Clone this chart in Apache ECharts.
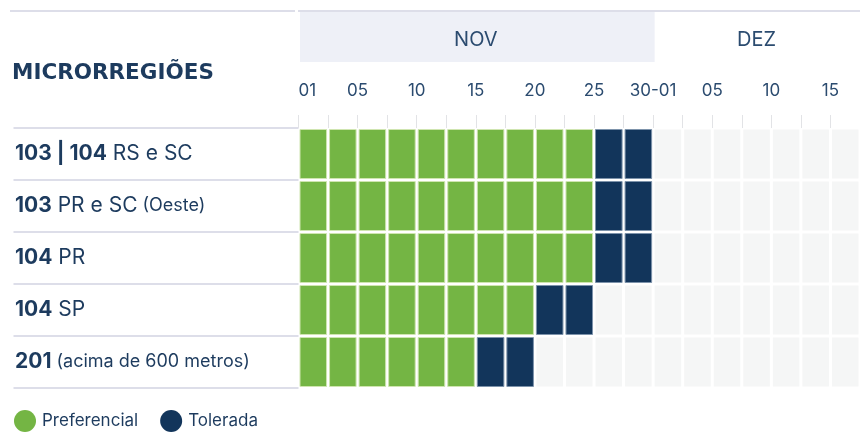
<!DOCTYPE html>
<html>
<head>
<meta charset="utf-8">
<script src="https://cdn.jsdelivr.net/npm/echarts@6/dist/echarts.min.js"></script>
<style>html,body{margin:0;padding:0;background:#fff}#c{width:860px;height:435px}</style>
</head>
<body>
<div id="c"></div>
<script>
// ---- data ----
const rowCodes = ["103 | 104", "103", "104", "104", "201"];
const rowNames = ["RS e SC", "PR e SC", "PR", "SP", ""];
const rowNotes = ["", "(Oeste)", "", "", "(acima de 600 metros)"];
// days counted from 01/NOV
const prefStart = [0, 0, 0, 0, 0];
const prefEnd = [25, 25, 25, 20, 15];
const tolEnd = [30, 30, 30, 25, 20];
const tickLabels = ["01", "05", "10", "15", "20", "25", "30-01", "05", "10", "15"];
const monthNames = ["NOV", "DEZ"];
const monthBounds = [0, 30, 47.5];
const seriesNames = ["Preferencial", "Tolerada"];
const CELL = 2.5;
const TOTAL = 47.5;

const FONT = "Inter";
const TXT = "#1d3b5e";

function cells(start, end, row) {
  const out = [];
  for (let d = start; d < end - 1e-9; d += CELL) out.push([d, d + CELL, row]);
  return out;
}
const bgData = [], prefData = [], tolData = [];
rowCodes.forEach((_, r) => {
  bgData.push(...cells(0, TOTAL, r));
  prefData.push(...cells(prefStart[r], prefEnd[r], r));
  tolData.push(...cells(prefEnd[r], tolEnd[r], r));
});

function renderer(fill, stroke) {
  return function (params, api) {
    const s = api.value(0), e = api.value(1), r = api.value(2);
    const p0 = api.coord([s, r]);
    const p1 = api.coord([e, r]);
    const h = api.size([0, 1])[1];
    return {
      type: 'rect',
      shape: { x: p0[0] + 1.5, y: p0[1] - h / 2 + 1.5, width: p1[0] - p0[0] - 3, height: h - 3 },
      style: { fill: fill, stroke: stroke, lineWidth: stroke ? 1 : 0 }
    };
  };
}

const chart = echarts.init(document.getElementById('c'), null, { renderer: 'canvas' });
chart.setOption({
  animation: false,
  textStyle: { fontFamily: FONT },
  grid: { left: 298.5, top: 128, width: 569, height: 260 },
  legend: {
    data: seriesNames,
    icon: 'circle',
    itemWidth: 22, itemHeight: 22, itemGap: 22,
    left: 14, top: 410, padding: 0,
    textStyle: { fontSize: 17, color: TXT, fontFamily: FONT, padding: [0, 0, 0, 1] }
  },
  xAxis: {
    type: 'value', position: 'top', min: 0, max: TOTAL, interval: CELL,
    axisLine: { show: false },
    splitLine: { show: false },
    axisTick: { show: true, length: 13, lineStyle: { color: '#e2e3e6', width: 1 } },
    axisLabel: {
      margin: 29, fontSize: 17, color: '#2b4b6f', fontFamily: FONT,
      showMinLabel: true, showMaxLabel: false, alignMinLabel: 'left',
      formatter: function (v) {
        const k = v / 5;
        if (Math.abs(k - Math.round(k)) > 1e-6) return '';
        return tickLabels[Math.round(k)] || '';
      }
    }
  },
  yAxis: {
    type: 'category', inverse: true, offset: 3.5,
    data: rowCodes.map((c, i) => i),
    axisLine: { show: false },
    axisTick: { show: true, length: 285, lineStyle: { color: '#dddee9', width: 2 } },
    axisLabel: {
      align: 'left', margin: 280,
      formatter: function (v, i) {
        let s = '{b|' + rowCodes[i] + '}';
        if (rowNames[i]) s += '{r| ' + rowNames[i] + '}';
        if (rowNotes[i]) s += '{s| ' + rowNotes[i] + '}';
        return s;
      },
      rich: {
        b: { fontSize: 21, fontWeight: 'bold', color: TXT, fontFamily: FONT },
        r: { fontSize: 21, color: TXT, fontFamily: FONT },
        s: { fontSize: 18, color: TXT, fontFamily: FONT }
      }
    }
  },
  series: [
    {
      type: 'custom', name: 'bg', silent: true,
      renderItem: renderer('#f5f6f6', null),
      encode: { x: [0, 1], y: 2 }, data: bgData
    },
    {
      type: 'custom', name: seriesNames[0],
      itemStyle: { color: '#74b544' },
      renderItem: renderer('#74b544', '#cfe5b0'),
      encode: { x: [0, 1], y: 2 }, data: prefData
    },
    {
      type: 'custom', name: seriesNames[1],
      itemStyle: { color: '#12355b' },
      renderItem: renderer('#12355b', '#7d93ab'),
      encode: { x: [0, 1], y: 2 }, data: tolData
    }
  ]
});

const px = v => chart.convertToPixel({ xAxisIndex: 0 }, v);
const xb = monthBounds.map(px);
chart.setOption({
  graphic: [
    { type: 'line', shape: { x1: 10, y1: 11, x2: 295, y2: 11 }, style: { stroke: '#dddee9', lineWidth: 2 } },
    { type: 'line', shape: { x1: 298, y1: 11, x2: 860, y2: 11 }, style: { stroke: '#dddee9', lineWidth: 2 } },
    { type: 'rect', shape: { x: xb[0] + 1.5, y: 12, width: xb[1] - xb[0], height: 50 }, style: { fill: '#eef0f7' } },
    { type: 'text', x: (xb[0] + xb[1]) / 2, y: 40, style: { text: monthNames[0], fontSize: 20, fill: '#2b4b6f', fontFamily: FONT, align: 'center', verticalAlign: 'middle' } },
    { type: 'text', x: (xb[1] + xb[2]) / 2, y: 40, style: { text: monthNames[1], fontSize: 20, fill: '#2b4b6f', fontFamily: FONT, align: 'center', verticalAlign: 'middle' } },
    { type: 'text', x: 12, y: 73, style: { text: 'MICRORREGIÕES', fontSize: 21.5, fontWeight: 'bold', fill: TXT, fontFamily: 'DejaVu Sans', align: 'left', verticalAlign: 'middle' } }
  ]
});
</script>
</body>
</html>
